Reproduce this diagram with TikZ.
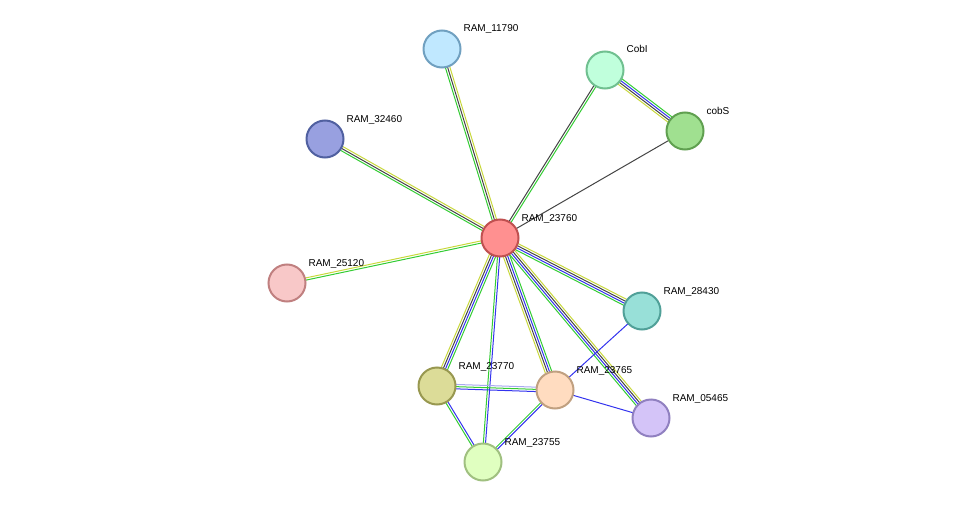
\documentclass[tikz,border=0pt]{standalone}
\usepackage{fontspec}
\setmainfont{Liberation Sans}
\usetikzlibrary{calc}
\definecolor{eg}{HTML}{33CC33}\definecolor{ey}{HTML}{C8D83C}
\definecolor{ek}{HTML}{444444}\definecolor{eb}{HTML}{3333EE}
\definecolor{el}{HTML}{A8A8F0}
\definecolor{fa}{HTML}{FF9090}\definecolor{da}{HTML}{C05050}
\definecolor{fb}{HTML}{C0E8FF}\definecolor{db}{HTML}{70A0C0}
\definecolor{fc}{HTML}{C0FFDC}\definecolor{dc}{HTML}{70C090}
\definecolor{fd}{HTML}{A0E090}\definecolor{dd}{HTML}{60A050}
\definecolor{fe}{HTML}{98A0E0}\definecolor{de}{HTML}{5060A0}
\definecolor{ff}{HTML}{F8C8C8}\definecolor{df}{HTML}{C08080}
\definecolor{fg}{HTML}{98E0D8}\definecolor{dg}{HTML}{50A098}
\definecolor{fh}{HTML}{DCDC98}\definecolor{dh}{HTML}{989850}
\definecolor{fi}{HTML}{FFDCC0}\definecolor{di}{HTML}{C0A080}
\definecolor{fj}{HTML}{D4C4F8}\definecolor{dj}{HTML}{9080C0}
\definecolor{fk}{HTML}{E0FFC0}\definecolor{dk}{HTML}{A0C080}
\newcommand\ed[4]{%
  \foreach \c [count=\i] in {#4} {
    \pgfmathsetmacro\o{(\i-(#3+1)/2)*2.2}
    \draw[\c, line width=1pt] ($(#1)!\o pt!90:(#2)$) -- ($(#2)!\o pt!-90:(#1)$);
  }}
\begin{document}
\begin{tikzpicture}[x=1pt,y=-1pt,
  prot/.style={circle, minimum size=37pt, inner sep=0pt, line width=2pt, fill=f#1, draw=d#1},
  lab/.style={anchor=base west, font=\fontsize{10}{12}\selectfont, text=black}]
\useasboundingbox (0,0) rectangle (976,508);
\coordinate (c) at (500,238);
\coordinate (a11790) at (442,49);
\coordinate (cobI) at (605,70);
\coordinate (cobS) at (685,131);
\coordinate (a32460) at (325,139);
\coordinate (a25120) at (287,283);
\coordinate (a28430) at (642,311);
\coordinate (a23770) at (437,386);
\coordinate (a23765) at (555,390);
\coordinate (a05465) at (651,418);
\coordinate (a23755) at (483,462);
\ed{c}{a11790}{3}{ey,ek,eg}
\ed{c}{cobI}{2}{eg,ek}
\ed{cobI}{cobS}{4}{ey,ek,eb,eg}
\ed{c}{cobS}{1}{ek}
\ed{c}{a32460}{3}{ey,ek,eg}
\ed{c}{a25120}{2}{ey,eg}
\ed{c}{a28430}{4}{eg,eb,ek,ey}
\ed{c}{a05465}{4}{eg,eb,ek,ey}
\ed{c}{a23770}{4}{ey,ek,eb,eg}
\ed{c}{a23765}{4}{ey,ek,eb,eg}
\ed{c}{a23755}{2}{eg,eb}
\ed{a23770}{a23765}{3}{eb,eg,el}
\ed{a23770}{a23755}{2}{eg,eb}
\ed{a23765}{a23755}{2}{eg,eb}
\ed{a23765}{a05465}{1}{eb}
\ed{a23765}{a28430}{1}{eb}
\node[prot=a] (n23760) at (c) {};
\node[prot=b] (n11790) at (a11790) {};
\node[prot=c] (ncobI) at (cobI) {};
\node[prot=d] (ncobS) at (cobS) {};
\node[prot=e] (n32460) at (a32460) {};
\node[prot=f] (n25120) at (a25120) {};
\node[prot=g] (n28430) at (a28430) {};
\node[prot=h] (n23770) at (a23770) {};
\node[prot=i] (n23765) at (a23765) {};
\node[prot=j] (n05465) at (a05465) {};
\node[prot=k] (n23755) at (a23755) {};
\foreach \p/\t in {c/RAM\_23760,a11790/RAM\_11790,cobI/CobI,cobS/cobS,a32460/RAM\_32460,a25120/RAM\_25120,a28430/RAM\_28430,a23770/RAM\_23770,a23765/RAM\_23765,a05465/RAM\_05465,a23755/RAM\_23755}
  \node[lab] (l\p) at ($(\p)+(18,-17)$) {\t};
\end{tikzpicture}
\end{document}
